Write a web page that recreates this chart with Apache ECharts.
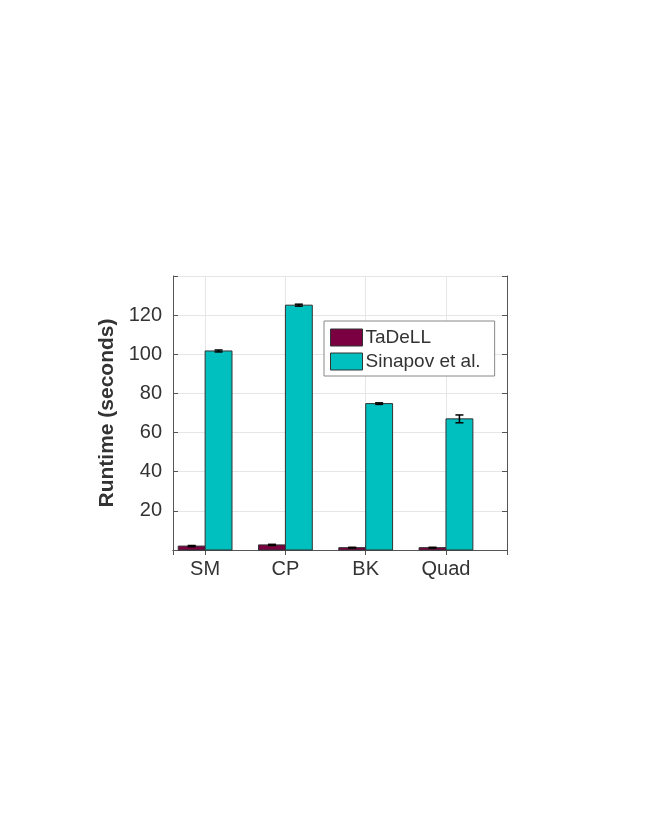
<!DOCTYPE html>
<html>
<head>
<meta charset="utf-8">
<script src="https://cdn.jsdelivr.net/npm/echarts@6/dist/echarts.min.js"></script>
<style>
html,body{margin:0;padding:0;background:#fff;}
#chart{width:649px;height:839px;}
</style>
</head>
<body>
<div id="chart"></div>
<script>
const categories = ['SM', 'CP', 'BK', 'Quad'];
const positions = [1, 2, 3, 4];
const tadellMean = [2.0, 2.6, 1.2, 1.2];
const tadellErr = [0.3, 0.3, 0.2, 0.2];
const sinapovMean = [101.7, 125.1, 74.8, 67.0];
const sinapovErr = [0.5, 0.5, 0.4, 2.0];
const yTickLabels = [20, 40, 60, 80, 100, 120];

const FONT = '"Liberation Sans", Arial, Helvetica, sans-serif';
const BAR_W = 0.335;
const colTa = '#7B0041';
const colSi = '#00BFBF';

function barRenderer(offsetStart, offsetEnd, color) {
  return function (params, api) {
    const x = api.value(0), y = api.value(1);
    const p0 = api.coord([x + offsetStart, y]);
    const p1 = api.coord([x + offsetEnd, 0]);
    return {
      type: 'rect',
      shape: { x: p0[0], y: p0[1], width: p1[0] - p0[0], height: p1[1] - p0[1] },
      style: { fill: color, stroke: '#333', lineWidth: 1 }
    };
  };
}
function errRenderer(offset) {
  return function (params, api) {
    const x = api.value(0) + offset;
    const lo = api.coord([x, api.value(1)]);
    const hi = api.coord([x, api.value(2)]);
    const c = 4;
    const st = { stroke: '#000', lineWidth: 1.5 };
    return {
      type: 'group',
      children: [
        { type: 'line', shape: { x1: lo[0], y1: lo[1], x2: hi[0], y2: hi[1] }, style: st },
        { type: 'line', shape: { x1: lo[0] - c, y1: lo[1], x2: lo[0] + c, y2: lo[1] }, style: st },
        { type: 'line', shape: { x1: hi[0] - c, y1: hi[1], x2: hi[0] + c, y2: hi[1] }, style: st }
      ]
    };
  };
}

const taData = positions.map((p, i) => [p, tadellMean[i]]);
const siData = positions.map((p, i) => [p, sinapovMean[i]]);
const taErrData = positions.map((p, i) => [p, tadellMean[i] - tadellErr[i], tadellMean[i] + tadellErr[i]]);
const siErrData = positions.map((p, i) => [p, sinapovMean[i] - sinapovErr[i], sinapovMean[i] + sinapovErr[i]]);

const axisLineStyle = { color: '#555', width: 1 };
const gridLineStyle = { color: '#e6e6e6', width: 1 };

const chart = echarts.init(document.getElementById('chart'), null, { renderer: 'canvas' });
chart.setOption({
  animation: false,
  backgroundColor: '#fff',
  grid: { left: 173, top: 276, right: 142, bottom: 289, containLabel: false },
  legend: {
    show: true,
    data: ['TaDeLL', 'Sinapov et al.'],
    orient: 'vertical',
    left: 324,
    top: 321,
    padding: [7, 14, 5, 6],
    itemGap: 5,
    itemWidth: 32,
    itemHeight: 17,
    icon: 'rect',
    borderColor: '#888',
    borderWidth: 1,
    backgroundColor: '#fff',
    itemStyle: { borderColor: '#333', borderWidth: 1 },
    textStyle: { fontFamily: FONT, fontSize: 19, color: '#333', padding: [0, 0, 0, -2] }
  },
  xAxis: [{
    type: 'value',
    min: 0.6,
    max: 4.76,
    splitNumber: 4,
    position: 'bottom',
    axisLine: { show: true, lineStyle: axisLineStyle },
    axisTick: { show: true, inside: true, length: 5, lineStyle: axisLineStyle },
    axisLabel: {
      margin: 9,
      fontFamily: FONT, fontSize: 20, color: '#333',
      formatter: function (v) {
        const r = Math.round(v);
        if (Math.abs(v - r) < 1e-6) {
          const idx = positions.indexOf(r);
          return idx >= 0 ? categories[idx] : '';
        }
        return '';
      }
    },
    splitLine: { show: true, lineStyle: gridLineStyle }
  }, {
    type: 'value',
    min: 0.6,
    max: 4.76,
    splitNumber: 4,
    position: 'top',
    axisLine: { show: true, lineStyle: axisLineStyle },
    axisTick: { show: true, inside: true, length: 5, lineStyle: axisLineStyle },
    axisLabel: { show: false },
    splitLine: { show: false }
  }],
  yAxis: [{
    type: 'value',
    min: 0,
    max: 140,
    interval: 20,
    position: 'left',
    name: 'Runtime (seconds)',
    nameLocation: 'middle',
    nameGap: 47,
    nameTextStyle: { fontFamily: FONT, fontSize: 21, fontWeight: 'bold', color: '#333' },
    axisLine: { show: true, lineStyle: axisLineStyle },
    axisTick: { show: true, inside: true, length: 5, lineStyle: axisLineStyle },
    axisLabel: {
      margin: 11,
      fontFamily: FONT, fontSize: 20, color: '#333',
      formatter: function (v) { return yTickLabels.indexOf(v) >= 0 ? String(v) : ''; }
    },
    splitLine: { show: true, lineStyle: gridLineStyle }
  }, {
    type: 'value',
    min: 0,
    max: 140,
    interval: 20,
    position: 'right',
    axisLine: { show: true, lineStyle: axisLineStyle },
    axisTick: { show: true, inside: true, length: 5, lineStyle: axisLineStyle },
    axisLabel: { show: false },
    splitLine: { show: false }
  }],
  series: [{
    name: 'TaDeLL',
    type: 'custom',
    xAxisIndex: 0, yAxisIndex: 0,
    itemStyle: { color: colTa },
    renderItem: barRenderer(-BAR_W, 0, colTa),
    encode: { x: 0, y: 1 },
    data: taData,
    z: 3
  }, {
    name: 'Sinapov et al.',
    type: 'custom',
    xAxisIndex: 0, yAxisIndex: 0,
    itemStyle: { color: colSi },
    renderItem: barRenderer(0, BAR_W, colSi),
    encode: { x: 0, y: 1 },
    data: siData,
    z: 3
  }, {
    name: 'errTa',
    type: 'custom',
    xAxisIndex: 0, yAxisIndex: 0,
    renderItem: errRenderer(-BAR_W / 2),
    encode: { x: 0, y: [1, 2] },
    data: taErrData,
    z: 4
  }, {
    name: 'errSi',
    type: 'custom',
    xAxisIndex: 0, yAxisIndex: 0,
    renderItem: errRenderer(BAR_W / 2),
    encode: { x: 0, y: [1, 2] },
    data: siErrData,
    z: 4
  }]
});
</script>
</body>
</html>
